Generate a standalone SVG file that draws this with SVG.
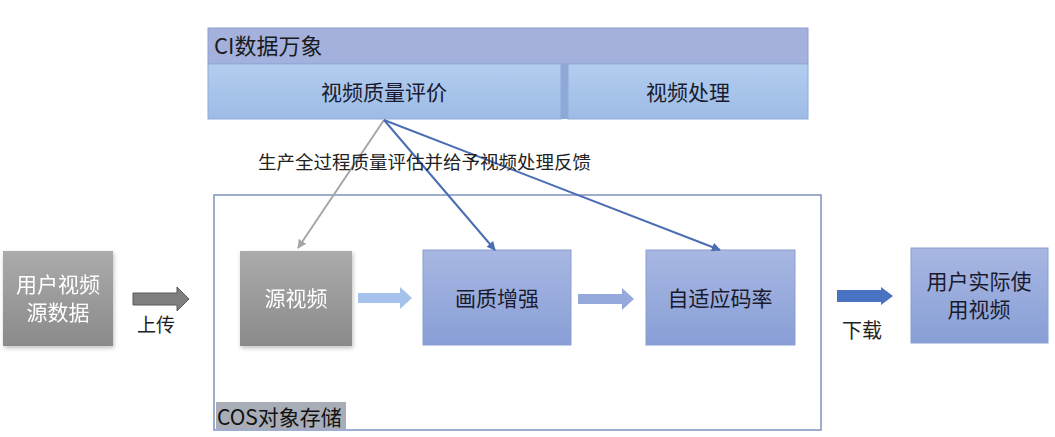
<svg xmlns="http://www.w3.org/2000/svg" width="1055" height="437" viewBox="0 0 1055 437">
<defs>
<linearGradient id="gBlue" x1="0" y1="0" x2="0" y2="1"><stop offset="0" stop-color="#a8b7e2"/><stop offset="1" stop-color="#889fd6"/></linearGradient>
<linearGradient id="gGray" x1="0" y1="0" x2="0" y2="1"><stop offset="0" stop-color="#ababab"/><stop offset="1" stop-color="#8a8a8a"/></linearGradient>
<linearGradient id="gSub" x1="0" y1="0" x2="0" y2="1"><stop offset="0" stop-color="#b3cdef"/><stop offset="1" stop-color="#9dbbe6"/></linearGradient>
<filter id="sh" x="-10%" y="-10%" width="125%" height="125%"><feDropShadow dx="1" dy="2" stdDeviation="2" flood-color="#000" flood-opacity="0.25"/></filter>
<marker id="mBlue" viewBox="0 0 10 10" refX="9" refY="5" markerWidth="4.5" markerHeight="4.5" orient="auto"><path d="M0,0 L10,5 L0,10 Z" fill="#4a6db3"/></marker>
<marker id="mGray" viewBox="0 0 10 10" refX="9" refY="5" markerWidth="4.5" markerHeight="4.5" orient="auto"><path d="M0,0 L10,5 L0,10 Z" fill="#a6a6a6"/></marker>
</defs>
<style>
text{font-family:"Noto Sans CJK SC","Noto Sans",sans-serif;}
.dark{fill:#1a1a2e;font-size:21px;}
.white{fill:#ffffff;font-size:21px;}
.lbl{fill:#222;font-size:18.5px;}
.blue{fill:url(#gBlue);stroke:#8a9ed0;stroke-width:1;}
.gray{fill:url(#gGray);}
</style>
<rect width="1055" height="437" fill="#ffffff"/>

<g id="ci">
<rect x="208" y="28" width="600" height="36" fill="#a4b1dc" stroke="#8d9dcf" stroke-width="1"/>
<text x="214" y="54" style="fill:#1a1a1a;font-size:22px">CI数据万象</text>
</g>
<g id="vqa">
<rect x="208" y="64" width="353" height="55" fill="url(#gSub)" stroke="#8eabd9" stroke-width="1"/>
<text x="384" y="100" text-anchor="middle" class="dark">视频质量评价</text>
</g>
<rect x="561" y="64" width="7" height="55" fill="#8ea8d8"/>
<g id="vp">
<rect x="568" y="64" width="240" height="55" fill="url(#gSub)" stroke="#8eabd9" stroke-width="1"/>
<text x="688" y="100" text-anchor="middle" class="dark">视频处理</text>
</g>

<g id="cos">
<rect x="214" y="195" width="607" height="235" fill="none" stroke="#7f93bf" stroke-width="1.5"/>
<rect x="216" y="402" width="130" height="27" fill="#a9adb8"/>
<text x="217" y="425" style="fill:#111;font-size:21px">COS对象存储</text>
</g>

<g id="src-data" filter="url(#sh)">
<rect x="3" y="251" width="110" height="95" class="gray"/>
<text x="58" y="292" text-anchor="middle" class="white">用户视频</text>
<text x="58" y="320" text-anchor="middle" class="white">源数据</text>
</g>
<g id="src-video" filter="url(#sh)">
<rect x="240" y="251" width="112" height="95" class="gray"/>
<text x="296" y="306" text-anchor="middle" class="white">源视频</text>
</g>
<g id="enhance">
<rect x="423" y="250" width="148" height="95" class="blue"/>
<text x="497" y="306" text-anchor="middle" class="dark">画质增强</text>
</g>
<g id="abr">
<rect x="646" y="250" width="149" height="95" class="blue"/>
<text x="720" y="306" text-anchor="middle" class="dark">自适应码率</text>
</g>
<g id="user-video">
<rect x="911" y="248" width="137" height="95" class="blue"/>
<text x="979" y="289" text-anchor="middle" class="dark">用户实际使</text>
<text x="979" y="317" text-anchor="middle" class="dark">用视频</text>
</g>

<g id="connectors">
<line x1="384" y1="120" x2="298" y2="248" stroke="#a6a6a6" stroke-width="2" marker-end="url(#mGray)"/>
<line x1="384" y1="120" x2="495" y2="250" stroke="#4a6db3" stroke-width="2" marker-end="url(#mBlue)"/>
<line x1="384" y1="120" x2="720" y2="250" stroke="#4a6db3" stroke-width="2" marker-end="url(#mBlue)"/>
<path d="M133,293 L177,293 L177,287 L189,299 L177,311 L177,305 L133,305 Z" fill="#7f7f7f" stroke="#5a5a5a" stroke-width="1"/>
<path d="M358,293 L400,293 L400,287 L412,298 L400,309 L400,303 L358,303 Z" fill="#a5c2ec"/>
<path d="M578,294 L622,294 L622,288 L634,299 L622,310 L622,304 L578,304 Z" fill="#95a9dc"/>
<path d="M837,290 L881,290 L881,287 L893,296 L881,305 L881,302 L837,302 Z" fill="#4a72c2"/>
<text x="258" y="169" class="lbl">生产全过程质量评估并给予视频处理反馈</text>
<text x="137" y="332" class="lbl" style="font-size:19px">上传</text>
<text x="842" y="338" class="lbl" style="font-size:20px">下载</text>
</g>
</svg>
